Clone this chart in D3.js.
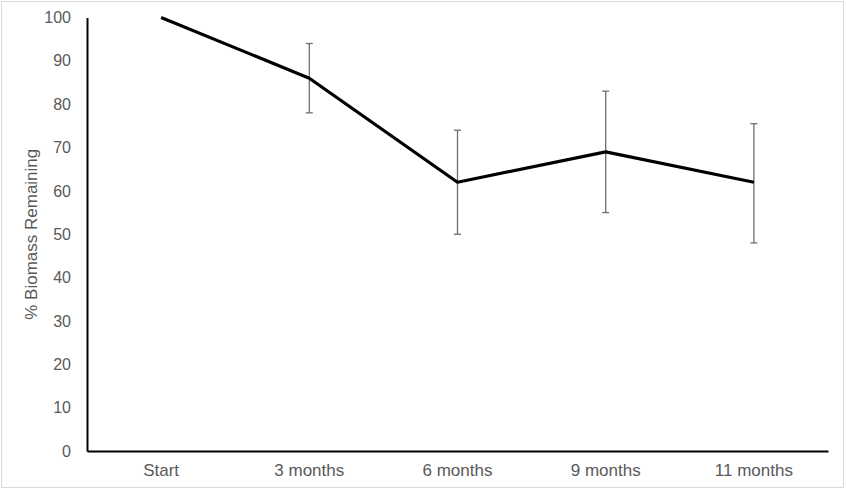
<!DOCTYPE html>
<html>
<head>
<meta charset="utf-8">
<script src="https://cdn.jsdelivr.net/npm/d3@7"></script>
<style>
  body { margin: 0; background: #fff; }
  svg { font-family: "Liberation Sans", Arial, sans-serif; }
</style>
</head>
<body>
<div id="chart"></div>
<script>
// data
const categories = ['Start', '3 months', '6 months', '9 months', '11 months'];
const biomass = [100, 86, 62, 69, 62];
const errLow = [null, 78, 50, 55, 48];
const errHigh = [null, 94, 74, 83, 75.5];
const yTicks = [0, 10, 20, 30, 40, 50, 60, 70, 80, 90, 100];

const width = 846, height = 492;
const margin = {top: 17.5, right: 18, bottom: 41, left: 87};

const svg = d3.select('#chart').append('svg')
    .attr('width', width)
    .attr('height', height);

// outer border
svg.append('rect')
    .attr('x', 1.5).attr('y', 1.5)
    .attr('width', width - 4).attr('height', height - 6)
    .attr('fill', '#fff')
    .attr('stroke', '#d9d9d9')
    .attr('stroke-width', 1);

const x = d3.scaleBand()
    .domain(categories)
    .range([margin.left, width - margin.right]);

const y = d3.scaleLinear()
    .domain([0, 100])
    .range([height - margin.bottom, margin.top]);

const cx = d => x(d) + x.bandwidth() / 2;

// y axis
const yAxis = svg.append('g')
    .attr('transform', `translate(${margin.left},0)`)
    .call(d3.axisLeft(y).tickValues(yTicks).tickSize(0).tickPadding(16));
yAxis.select('.domain').attr('stroke', '#000').attr('stroke-width', 2);
yAxis.selectAll('text')
    .attr('fill', '#595959')
    .style('font-size', '16px');

// x axis
const xAxis = svg.append('g')
    .attr('transform', `translate(0,${height - margin.bottom})`)
    .call(d3.axisBottom(x).tickSize(0).tickPadding(13));
xAxis.select('.domain').attr('stroke', '#000').attr('stroke-width', 2);
xAxis.selectAll('text')
    .attr('fill', '#595959')
    .style('font-size', '17px');

// y label
svg.append('text')
    .attr('transform', `translate(37,${(margin.top + height - margin.bottom) / 2}) rotate(-90)`)
    .attr('text-anchor', 'middle')
    .attr('fill', '#595959')
    .style('font-size', '17px')
    .text('% Biomass Remaining');

// error bars
const rows = categories.map((c, i) => ({cat: c, v: biomass[i], lo: errLow[i], hi: errHigh[i]}));
const eb = svg.append('g')
    .attr('stroke', '#6e6e6e')
    .attr('stroke-width', 1.3);
rows.filter(d => d.lo != null).forEach(d => {
    eb.append('line')
        .attr('x1', cx(d.cat)).attr('x2', cx(d.cat))
        .attr('y1', y(d.lo)).attr('y2', y(d.hi));
    [d.lo, d.hi].forEach(v => {
        eb.append('line')
            .attr('x1', cx(d.cat) - 3.5).attr('x2', cx(d.cat) + 3.5)
            .attr('y1', y(v)).attr('y2', y(v));
    });
});

// line
const line = d3.line()
    .x(d => cx(d.cat))
    .y(d => y(d.v));

svg.append('path')
    .datum(rows)
    .attr('d', line)
    .attr('fill', 'none')
    .attr('stroke', '#000')
    .attr('stroke-width', 3.2)
    .attr('stroke-linejoin', 'round');
</script>
</body>
</html>
